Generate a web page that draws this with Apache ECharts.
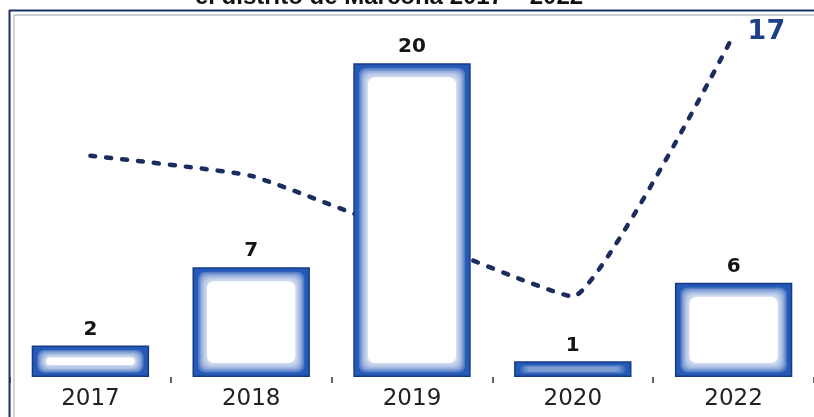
<!DOCTYPE html>
<html>
<head>
<meta charset="utf-8">
<script src="https://cdn.jsdelivr.net/npm/echarts@6/dist/echarts.min.js"></script>
<style>
html,body{margin:0;padding:0;background:#fff;}
#chart{width:814px;height:417px;}
</style>
</head>
<body>
<div id="chart"></div>
<script>
var titleText = 'el distrito de Marcona 2017 – 2022';
var categories = ['2017', '2018', '2019', '2020', '2022'];
var barValues = [2, 7, 20, 1, 6];
var lineValues = [11, 10, 7, 4, 17];

var chart = echarts.init(document.getElementById('chart'));

var barData = categories.map(function (c, i) { return [i, barValues[i]]; });

function innerGlow(params, api) {
  var idx = api.value(0), v = api.value(1);
  var top = api.coord([idx, v]);
  var base = api.coord([idx, 0]);
  var w = api.size([1, 0])[0] * 0.73;
  var h = base[1] - top[1];
  var x0 = top[0] - w / 2, y0 = top[1];
  var children = [];
  var steps = 7;
  var small = h < 20;
  var maxIy = Math.min(14, h * 0.38);
  for (var k = 1; k <= steps; k++) {
    var ix = 4 + k * 1.5;
    var iy = Math.min(4 + k * 1.5, 3 + (maxIy - 3) * k / steps);
    var hh = h - 2 * iy;
    if (hh <= 0.5) continue;
    var op = small ? 0.08 : (k === steps ? 1 : 0.22);
    children.push({
      type: 'rect',
      shape: { x: x0 + ix, y: y0 + iy, width: w - 2 * ix, height: hh, r: Math.min(7, hh / 2) },
      style: { fill: '#ffffff', opacity: op }
    });
  }
  return { type: 'group', children: children };
}

chart.setOption({
  animation: false,
  backgroundColor: '#ffffff',
  grid: { left: 10, right: 0, top: 35, bottom: 40, containLabel: false },
  xAxis: {
    type: 'category',
    data: categories,
    axisLine: { show: false },
    axisTick: { show: true, length: 6, lineStyle: { color: '#333', width: 1.5 } },
    axisLabel: { margin: 11, fontSize: 23, color: '#222', fontFamily: 'DejaVu Sans' }
  },
  yAxis: [
    { type: 'value', min: 0, max: 21.8, show: false, splitLine: { show: false } },
    { type: 'value', min: 0, max: 17, show: false, splitLine: { show: false } }
  ],
  graphic: [
    { type: 'text', x: 389, y: -15, z: 10,
      style: { text: titleText, fontSize: 24, fontWeight: 'bold', fontFamily: 'Liberation Sans', fill: '#111', textAlign: 'center' } },
    { type: 'line', shape: { x1: 9, y1: 10.5, x2: 814, y2: 10.5 }, style: { stroke: '#1c2f66', lineWidth: 2 }, z: 10 },
    { type: 'line', shape: { x1: 9.5, y1: 10, x2: 9.5, y2: 417 }, style: { stroke: '#1c2f66', lineWidth: 2 }, z: 10 },
    { type: 'line', shape: { x1: 14, y1: 15, x2: 814, y2: 15 }, style: { stroke: '#9a9aa4', lineWidth: 1 }, z: 10 },
    { type: 'line', shape: { x1: 14, y1: 15, x2: 14, y2: 417 }, style: { stroke: '#b0a8a8', lineWidth: 1 }, z: 10 }
  ],
  series: [
    {
      type: 'line',
      yAxisIndex: 1,
      data: lineValues,
      smooth: 0.12,
      symbol: 'none',
      z: 1,
      lineStyle: { color: '#1b2d5e', width: 4.5, type: [5, 11], cap: 'round' },
      endLabel: {
        show: true, distance: 14, offset: [0, -3],
        fontSize: 27, fontWeight: 'bold', color: '#1d3f8a', fontFamily: 'DejaVu Sans',
        formatter: function (p) { return String(p.value); }
      }
    },
    {
      type: 'bar',
      data: barValues,
      barWidth: '73%',
      z: 2,
      itemStyle: { color: '#2459b8', borderColor: '#173a85', borderWidth: 1.5 },
      label: { show: true, position: 'top', distance: 6, fontSize: 20, fontWeight: 'bold', color: '#151515', fontFamily: 'DejaVu Sans' }
    },
    {
      type: 'custom',
      data: barData,
      z: 3,
      silent: true,
      renderItem: innerGlow
    }
  ]
});
</script>
</body>
</html>
